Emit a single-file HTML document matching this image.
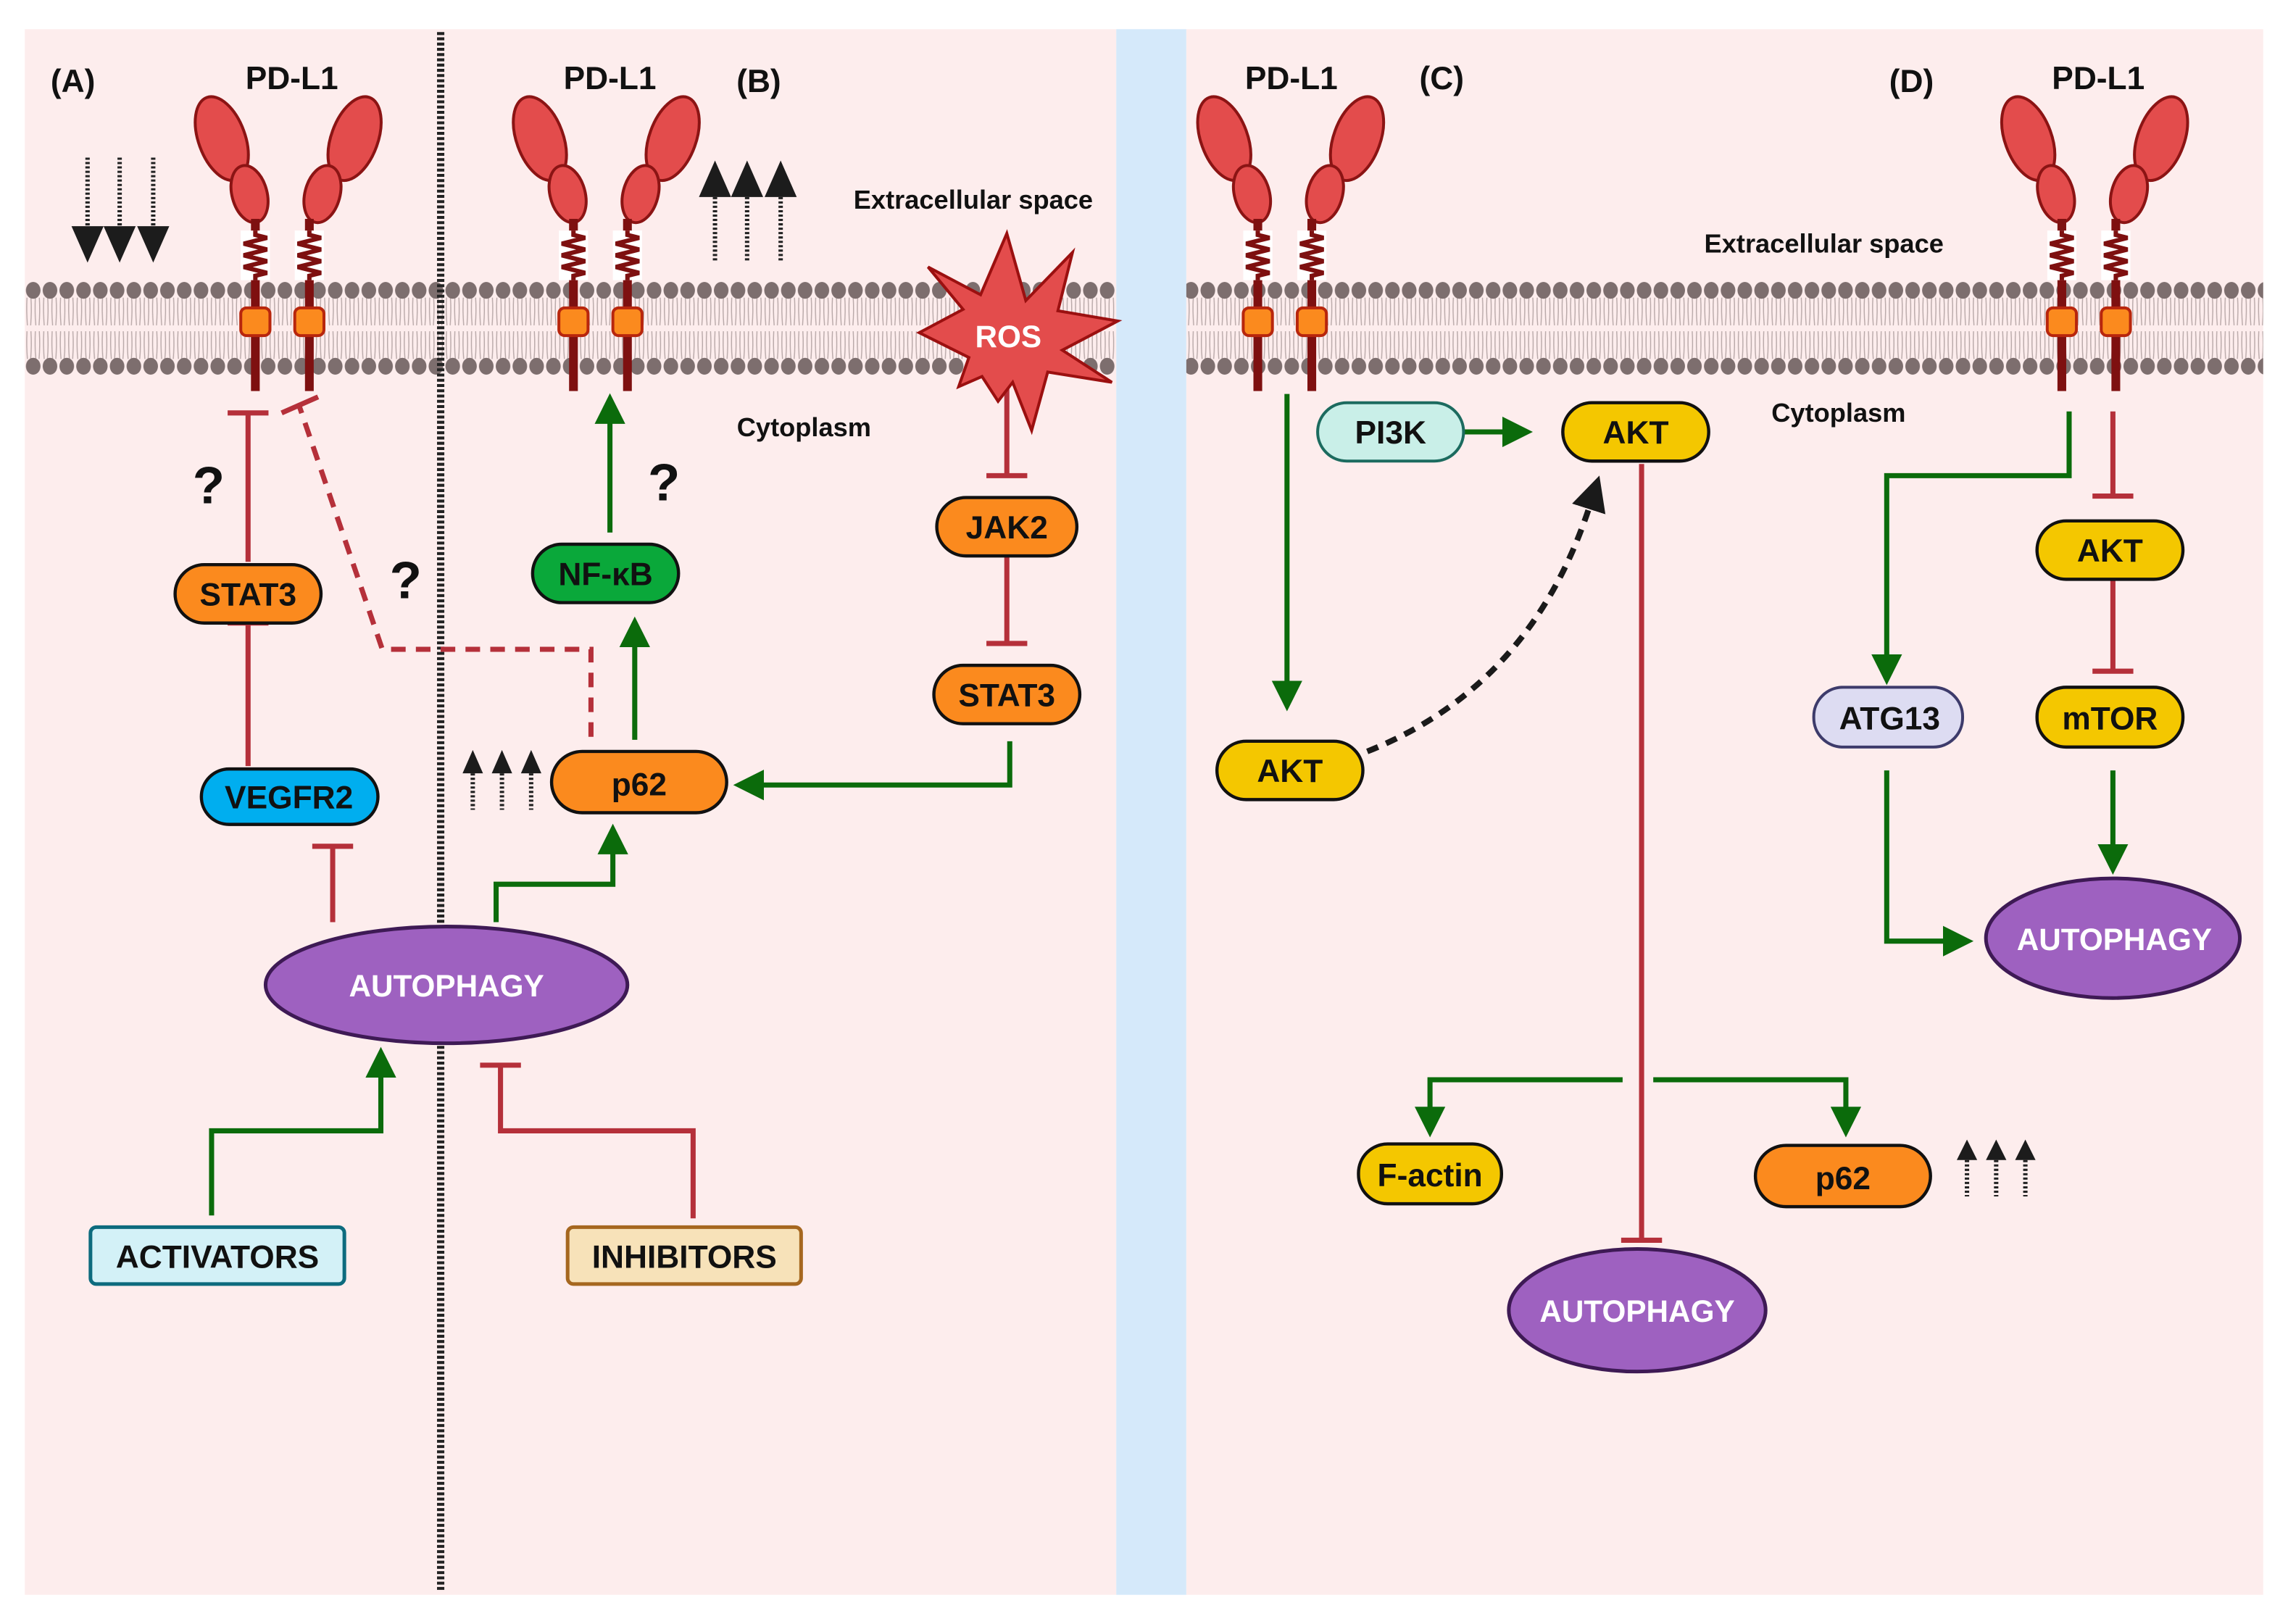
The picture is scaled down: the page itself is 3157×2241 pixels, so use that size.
<!DOCTYPE html>
<html><head><meta charset="utf-8"><style>
html,body{margin:0;padding:0;background:#fff;}
svg{display:block;}
text{font-family:"Liberation Sans",sans-serif;font-weight:bold;}
</style></head><body>
<svg width="3157" height="2241" viewBox="0 0 1568 1113" preserveAspectRatio="none" xmlns="http://www.w3.org/2000/svg">
<defs>
<pattern id="mem" x="17" y="190" width="5.75" height="70" patternUnits="userSpaceOnUse">
 <path d="M1.5 14 Q1 23 1.8 33 M4.2 14 Q4.8 23 4 33 M1.5 37 Q1 47 1.8 56 M4.2 37 Q4.8 47 4 56" stroke="#b8a8a8" stroke-width="0.7" fill="none"/>
</pattern>
<pattern id="heads" x="17" y="190" width="11.5" height="70" patternUnits="userSpaceOnUse">
 <ellipse cx="5.75" cy="9" rx="5" ry="5.8" fill="#7d6e6e"/>
 <ellipse cx="5.75" cy="61" rx="5" ry="5.8" fill="#7d6e6e"/>
</pattern>
<g id="rec">
 <ellipse cx="-23" cy="95" rx="16" ry="30" transform="rotate(-20 -23 95)" fill="#e34c4c" stroke="#8b1414" stroke-width="2"/>
 <ellipse cx="-4" cy="133" rx="12" ry="20" transform="rotate(-15 -4 133)" fill="#e34c4c" stroke="#8b1414" stroke-width="2"/>
 <ellipse cx="68" cy="95" rx="16" ry="30" transform="rotate(20 68 95)" fill="#e34c4c" stroke="#8b1414" stroke-width="2"/>
 <ellipse cx="46" cy="133" rx="12" ry="20" transform="rotate(15 46 133)" fill="#e34c4c" stroke="#8b1414" stroke-width="2"/>
 <rect x="-3" y="150" width="6" height="118" fill="#7e1010"/>
 <rect x="34" y="150" width="6" height="118" fill="#7e1010"/>
 <rect x="-10" y="158" width="20" height="34" fill="#fff"/>
 <rect x="27" y="158" width="20" height="34" fill="#fff"/>
 <path d="M0 158 L0 161 L8 163 L-8 167 L8 171 L-8 175 L8 179 L-8 183 L8 187 L0 189 L0 192" stroke="#7e1010" stroke-width="3" fill="none"/>
 <path d="M37 158 L37 161 L45 163 L29 167 L45 171 L29 175 L45 179 L29 183 L45 187 L37 189 L37 192" stroke="#7e1010" stroke-width="3" fill="none"/>
 <rect x="-10" y="211" width="20" height="19" rx="4" fill="#fb8a1e" stroke="#b8260d" stroke-width="2"/>
 <rect x="27" y="211" width="20" height="19" rx="4" fill="#fb8a1e" stroke="#b8260d" stroke-width="2"/>
</g>
<marker id="ga" markerWidth="6" markerHeight="6" refX="1" refY="3" orient="auto" markerUnits="strokeWidth"><path d="M0 0 L6 3 L0 6 Z" fill="#0b6b0b"/></marker>
<marker id="ka" markerWidth="6" markerHeight="6" refX="1" refY="3" orient="auto" markerUnits="strokeWidth"><path d="M0 0 L6 3 L0 6 Z" fill="#1a1a1a"/></marker>
</defs>

<rect x="0" y="0" width="1568" height="1113" fill="#fff"/>
<rect x="17" y="20" width="748" height="1073" fill="#fdeded"/>
<rect x="765" y="20" width="48" height="1073" fill="#d5e9fa"/>
<rect x="813" y="20" width="738" height="1073" fill="#fdeded"/>

<rect x="17" y="190" width="748" height="70" fill="url(#mem)"/>
<rect x="17" y="190" width="748" height="70" fill="url(#heads)"/>
<rect x="813" y="190" width="738" height="70" fill="url(#mem)"/>
<rect x="813" y="190" width="738" height="70" fill="url(#heads)"/>

<line x1="302" y1="22" x2="302" y2="1090" stroke="#222" stroke-width="5" stroke-dasharray="2 1.6"/>

<use href="#rec" x="175"/>
<use href="#rec" x="393"/>
<use href="#rec" x="862"/>
<use href="#rec" x="1413"/>

<g font-size="22" fill="#111" text-anchor="middle">
<text x="50" y="63">(A)</text>
<text x="200" y="61">PD-L1</text>
<text x="418" y="61">PD-L1</text>
<text x="520" y="63">(B)</text>
<text x="885" y="61">PD-L1</text>
<text x="988" y="61">(C)</text>
<text x="1310" y="63">(D)</text>
<text x="1438" y="61">PD-L1</text>
</g>
<g font-size="18" fill="#111" text-anchor="middle">
<text x="667" y="143">Extracellular space</text>
<text x="551" y="299">Cytoplasm</text>
<text x="1250" y="173">Extracellular space</text>
<text x="1260" y="289">Cytoplasm</text>
</g>
<g font-size="36" fill="#111" text-anchor="middle">
<text x="143" y="345">?</text>
<text x="278" y="410">?</text>
<text x="455" y="343">?</text>
</g>

<g stroke="#222" stroke-width="3" stroke-dasharray="1.5 1.5">
<line x1="60" y1="108" x2="60" y2="155"/><line x1="82" y1="108" x2="82" y2="155"/><line x1="105" y1="108" x2="105" y2="155"/>
<line x1="490" y1="135" x2="490" y2="180"/><line x1="512" y1="135" x2="512" y2="180"/><line x1="535" y1="135" x2="535" y2="180"/>
<line x1="324" y1="530" x2="324" y2="555"/><line x1="344" y1="530" x2="344" y2="555"/><line x1="364" y1="530" x2="364" y2="555"/>
<line x1="1348" y1="795" x2="1348" y2="820"/><line x1="1368" y1="795" x2="1368" y2="820"/><line x1="1388" y1="795" x2="1388" y2="820"/>
</g>
<g fill="#1c1c1c">
<path d="M49 155 L71 155 L60 180Z M71 155 L93 155 L82 180Z M94 155 L116 155 L105 180Z"/>
<path d="M479 135 L501 135 L490 110Z M501 135 L523 135 L512 110Z M524 135 L546 135 L535 110Z"/>
<path d="M317 530 L331 530 L324 514Z M337 530 L351 530 L344 514Z M357 530 L371 530 L364 514Z"/>
<path d="M1341 795 L1355 795 L1348 781Z M1361 795 L1375 795 L1368 781Z M1381 795 L1395 795 L1388 781Z"/>
</g>

<g stroke="#b5303a" stroke-width="3.5" fill="none">
<path d="M170 385 V283 M156 283 H184"/>
<path d="M170 525 V427 M156 427 H184"/>
<path d="M228 632 V580 M214 580 H242"/>
<path d="M475 835 V775 H343 V730 M329 730 H357"/>
<path d="M690 265 V326 M676 326 H704"/>
<path d="M690 375 V441 M676 441 H704"/>
<path d="M1125 318 V850 M1111 850 H1139"/>
<path d="M1448 282 V340 M1434 340 H1462"/>
<path d="M1448 392 V460 M1434 460 H1462"/>
<path d="M405 505 V445 H262 L205 278" stroke-dasharray="10 7"/>
<path d="M193 283 L218 272"/>
</g>

<g stroke="#0b6b0b" stroke-width="3.5" fill="none" marker-end="url(#ga)">
<path d="M145 833 V775 H261 V735"/>
<path d="M340 632 V606 H420 V582"/>
<path d="M435 507 V440"/>
<path d="M418 365 V287"/>
<path d="M692 508 V538 H520"/>
<path d="M1003 296 H1033"/>
<path d="M882 270 V470"/>
<path d="M1112 740 H980 V762"/>
<path d="M1133 740 H1265 V762"/>
<path d="M1418 282 V326 H1293 V452"/>
<path d="M1448 528 V582"/>
<path d="M1293 528 V645 H1335"/>
</g>
<path d="M937 515 Q1050 470 1090 345" stroke="#1a1a1a" stroke-width="4" fill="none" stroke-dasharray="8 6" marker-end="url(#ka)"/>

<polygon points="690,160 703,206 735,173 725,213 766,220 728,240 762,262 718,255 707,295 694,262 684,275 673,258 657,265 664,245 630,228 660,212 636,183 672,202" fill="#e34c4c" stroke="#9b1010" stroke-width="2"/>
<text x="691" y="238" font-size="21" fill="#fff" text-anchor="middle">ROS</text>

<g stroke="#111" stroke-width="2.2" font-size="22">
<rect x="120" y="387" width="100" height="40" rx="20" fill="#fb8a1e"/>
<rect x="138" y="527" width="121" height="38" rx="19" fill="#00aeef"/>
<rect x="378" y="515" width="120" height="42" rx="21" fill="#fb8a1e"/>
<rect x="365" y="373" width="100" height="40" rx="20" fill="#0aa83a"/>
<rect x="642" y="341" width="96" height="40" rx="20" fill="#fb8a1e"/>
<rect x="640" y="456" width="100" height="40" rx="20" fill="#fb8a1e"/>
<rect x="1071" y="276" width="100" height="40" rx="20" fill="#f4c700"/>
<rect x="834" y="508" width="100" height="40" rx="20" fill="#f4c700"/>
<rect x="931" y="784" width="98" height="41" rx="20" fill="#f4c700"/>
<rect x="1203" y="785" width="120" height="42" rx="21" fill="#fb8a1e"/>
<rect x="1396" y="357" width="100" height="40" rx="20" fill="#f4c700"/>
<rect x="1396" y="471" width="100" height="41" rx="20" fill="#f4c700"/>
</g>
<rect x="903" y="276" width="100" height="40" rx="20" fill="#c9efe8" stroke="#1c6b5f" stroke-width="2"/>
<rect x="1243" y="471" width="102" height="41" rx="20" fill="#dddcf2" stroke="#3d3b6b" stroke-width="2"/>
<rect x="62" y="841" width="174" height="39" rx="4" fill="#d3f1f7" stroke="#0d6b7e" stroke-width="2.5"/>
<rect x="389" y="841" width="160" height="39" rx="4" fill="#f7e2b9" stroke="#a6671f" stroke-width="2.5"/>
<g fill="#9e61c0" stroke="#3e1a55" stroke-width="2.5">
<ellipse cx="306" cy="675" rx="124" ry="40"/>
<ellipse cx="1122" cy="898" rx="88" ry="42"/>
<ellipse cx="1448" cy="643" rx="87" ry="41"/>
</g>

<g font-size="22" fill="#111" text-anchor="middle">
<text x="170" y="415">STAT3</text>
<text x="198" y="554">VEGFR2</text>
<text x="438" y="545">p62</text>
<text x="415" y="401">NF-κB</text>
<text x="690" y="369">JAK2</text>
<text x="690" y="484">STAT3</text>
<text x="953" y="304">PI3K</text>
<text x="1121" y="304">AKT</text>
<text x="884" y="536">AKT</text>
<text x="980" y="813">F-actin</text>
<text x="1263" y="815">p62</text>
<text x="1446" y="385">AKT</text>
<text x="1446" y="500">mTOR</text>
<text x="1295" y="500">ATG13</text>
<text x="149" y="869">ACTIVATORS</text>
<text x="469" y="869">INHIBITORS</text>
</g>
<g font-size="21" fill="#fff" text-anchor="middle">
<text x="306" y="683">AUTOPHAGY</text>
<text x="1122" y="906">AUTOPHAGY</text>
<text x="1449" y="651">AUTOPHAGY</text>
</g>
</svg>
</body></html>
